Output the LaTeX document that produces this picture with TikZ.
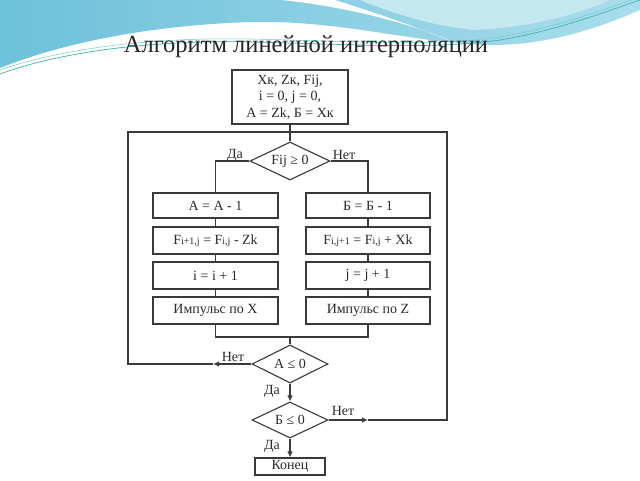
\documentclass[tikz,border=0pt]{standalone}
\usepackage{fontspec}
\setmainfont{Liberation Serif}
\usetikzlibrary{shapes.geometric,arrows.meta}
\definecolor{bgblue}{HTML}{6CC1DB}
\definecolor{bglight}{HTML}{A9DDEB}
\definecolor{bgpale}{HTML}{C4E8F0}
\definecolor{tealline}{HTML}{3DB5B0}
\definecolor{ink}{HTML}{2A2A2A}
\definecolor{linec}{HTML}{3A3A3A}
\tikzset{
  px/.style={x=1pt,y=-1pt},
  box/.style={draw=linec, line width=1.1pt, rectangle, inner sep=1pt, text=ink, font=\fontsize{14}{16}\selectfont},
  dia/.style={draw=linec, line width=1.1pt, diamond, aspect=2.1, inner sep=0pt, text=ink, font=\fontsize{14}{16}\selectfont},
  conn/.style={draw=linec, line width=1.1pt},
  tip/.style={-{Latex[length=6pt,width=5.5pt]}},
  lbl/.style={text=ink, font=\fontsize{14}{16}\selectfont, inner sep=0pt},
}
\newcommand{\sm}[1]{{\fontsize{10}{10}\selectfont #1}}
\begin{document}
\begin{tikzpicture}[px]
\useasboundingbox (0,0) rectangle (640,480);
\fill[white] (0,0) rectangle (640,480);
% background waves
\shade[left color=bgblue, right color=bglight] (0,0) -- (640,0) -- (640,10)
  .. controls (590,32) and (540,46) .. (485,45)
  .. controls (410,42) and (340,20) .. (250,22)
  .. controls (160,25) and (70,40) .. (0,68) -- cycle;
\fill[bgpale] (360,0) -- (610,0) .. controls (570,18) and (520,28) .. (475,30)
  .. controls (430,26) and (390,12) .. (360,0) -- cycle;
\fill[white] (282,0) .. controls (340,6) and (410,22) .. (458,44)
  .. controls (410,24) and (360,8) .. (335,0) -- cycle;
\draw[tealline, line width=0.7pt] (0,74) .. controls (60,52) and (150,40) .. (250,42)
  .. controls (350,44) and (430,50) .. (500,40) .. controls (560,30) and (610,10) .. (640,0);
\draw[tealline!70, line width=0.5pt] (0,70) .. controls (60,49) and (150,37) .. (250,39)
  .. controls (350,41) and (430,47) .. (500,37) .. controls (560,27) and (610,7) .. (640,-3);
% title
\node[anchor=base, text=black!85, font=\fontsize{24.5}{28}\selectfont] (title) at (306,52) {Алгоритм линейной интерполяции};
% flowchart nodes
\node[box, minimum width=116pt, minimum height=54pt, align=center, font=\fontsize{14}{16.5}\selectfont] (start) at (290,97)
  {Xк, Zк, Fij,\\ i = 0, j = 0,\\ А = Zk, Б = Xк};
\node[dia, minimum width=80pt, minimum height=38pt] (d1) at (290,161) {Fij ≥ 0};
\node[box, minimum width=125pt, minimum height=25pt] (a1) at (215.5,205.5) {А = А - 1};
\node[box, minimum width=125pt, minimum height=27pt] (a2) at (215.5,240.5) {F\sm{i+1,j} = F\sm{i,j} - Zk};
\node[box, minimum width=125pt, minimum height=27pt] (a3) at (215.5,275.5) {i = i + 1};
\node[box, minimum width=125pt, minimum height=27pt] (a4) at (215.5,310.5) {Импульс по X};
\node[box, minimum width=124pt, minimum height=25pt] (b1) at (368,205.5) {Б = Б - 1};
\node[box, minimum width=124pt, minimum height=27pt] (b2) at (368,240.5) {F\sm{i,j+1} = F\sm{i,j} + Xk};
\node[box, minimum width=124pt, minimum height=27pt] (b3) at (368,275.5) {j = j + 1};
\node[box, minimum width=124pt, minimum height=27pt] (b4) at (368,310.5) {Импульс по Z};
\node[dia, minimum width=76pt, minimum height=38pt] (d2) at (290,364) {А ≤ 0};
\node[dia, minimum width=76pt, minimum height=36pt] (d3) at (290,420) {Б ≤ 0};
\node[box, minimum width=70pt, minimum height=17pt] (end) at (290,466.5) {Конец};
% coordinates
\coordinate (j1) at (290,132);
\coordinate (m) at (290,337);
\coordinate (ln) at (213,364);
\coordinate (lc) at (128,364);
\coordinate (rn) at (368,420);
\coordinate (rc) at (447,420);
% connectors
\draw[conn] (start.south) -- (d1.north);
\draw[conn] (d1.west) -| (a1.north);
\draw[conn] (d1.east) -| (b1.north);
\draw[conn] (a1) -- (a2); \draw[conn] (a2) -- (a3); \draw[conn] (a3) -- (a4);
\draw[conn] (b1) -- (b2); \draw[conn] (b2) -- (b3); \draw[conn] (b3) -- (b4);
\draw[conn] (a4.south) |- (m) -| (b4.south);
\draw[conn] (m) -- (d2.north);
\draw[conn, tip] (d2.south) -- (d3.north);
\draw[conn, tip] (d3.south) -- (end.north);
\draw[conn, tip] (d2.west) -- (ln);
\draw[conn] (ln) -- (lc) |- (j1);
\draw[conn, tip] (d3.east) -- (rn);
\draw[conn] (rn) -- (rc) |- (j1);
% labels
\node[lbl] (l1) at (235,155) {Да};
\node[lbl] (l2) at (344,155) {Нет};
\node[lbl] (l3) at (233,357) {Нет};
\node[lbl] (l4) at (272,391) {Да};
\node[lbl] (l5) at (343,411) {Нет};
\node[lbl] (l6) at (272,446) {Да};
\end{tikzpicture}
\end{document}
